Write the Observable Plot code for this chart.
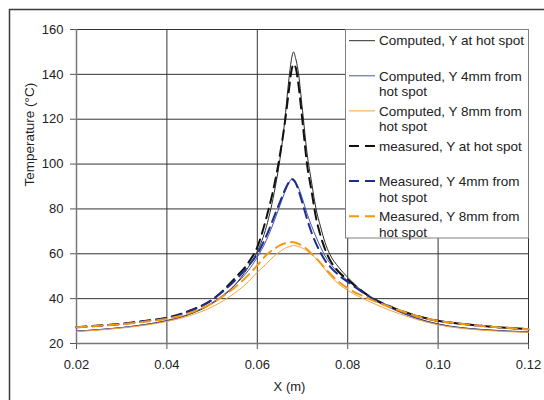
<!DOCTYPE html>
<html><head><meta charset="utf-8">
<script src="https://cdn.jsdelivr.net/npm/d3@7"></script>
<script src="https://cdn.jsdelivr.net/npm/@observablehq/plot@0.6"></script>
<style>body{margin:0;background:#fff;}</style>
</head><body><div id="chart"></div>
<script>
const xValues = [0.02,0.025,0.03,0.035,0.04,0.045,0.05,0.055,0.058,0.06,0.062,0.064,0.065,0.066,0.067,0.0675,0.068,0.0685,0.069,0.07,0.071,0.072,0.073,0.074,0.075,0.076,0.078,0.08,0.085,0.09,0.095,0.1,0.105,0.11,0.115,0.12];

const computedHot = [25.5,26.2,27.1,28.4,30.2,33.0,37.8,46,54,61,72,90,102,118,138,146,150,147,142,124,105,92,80,72,65,60,54,49.5,40.5,35.5,31.5,28.7,27.1,26.2,25.6,25.2];
const computed4mm = [25.5,26.2,27.1,28.4,30.2,33.2,38.2,46,52.5,58.5,66,76,81.5,87,91.5,93.2,93.3,92,90,84.5,78,72.5,67.5,63,59,56,51.5,48,40.5,35.3,31.3,28.5,27,26.1,25.5,25.1];
const computed8mm = [25.3,26,26.9,28.1,29.8,32.4,36.3,42.5,47.5,51.8,55.5,59.5,61,62.3,63.2,63.5,63.7,63.6,63.3,62.5,61.3,59.8,57.8,55.5,53,50.5,46.5,43.7,38.5,34.3,30.9,28.3,26.8,25.9,25.3,25];
const measuredHot = [27.3,28.0,28.8,30.0,31.5,34.6,39.5,49,56,63,76,93,104,117,133,141,144.5,143,137,119,100,88,76,68,62,57.5,52,48.5,40.8,36,32.5,30.1,28.8,27.8,27.0,26.4];
const measured4mm = [27.2,27.9,28.7,29.9,31.3,34.3,39.5,48,54.5,60,68,78,83,88,92,93.3,93,91.5,89,82.5,75.5,69.5,64.5,60.5,57,54.5,50.5,47.5,40.7,35.9,32.4,30,28.8,27.8,27,26.3];
const measured8mm = [27.2,27.9,28.6,29.7,31,33.6,38,45,50.5,54.8,59.5,62.5,63.8,64.6,65,65.2,65.1,64.9,64.5,63.5,62,60,58,55.8,53.5,51.3,47.5,44.7,39.7,35.8,32.4,30,28.8,27.8,27,26.3];

const seriesLabels = [
  ["Computed, Y at hot spot"],
  ["Computed, Y 4mm from", "hot spot"],
  ["Computed, Y 8mm from", "hot spot"],
  ["measured, Y at hot spot"],
  ["Measured, Y 4mm from", "hot spot"],
  ["Measured, Y 8mm from", "hot spot"]
];
const seriesValues = [computedHot, computed4mm, computed8mm, measuredHot, measured4mm, measured8mm];
const seriesColors = ["#2b2b2b", "#4455b0", "#f6a43c", "#111111", "#1f2e8e", "#f5980f"];
const seriesWidths = [1, 1, 1, 2, 2, 2];
const seriesDash = [null, null, null, "10,6", "10,6", "10,6"];

const xTicks = [0.02,0.04,0.06,0.08,0.10,0.12];
const yTicks = [20,40,60,80,100,120,140,160];
const xLabel = "X (m)";
const yLabel = "Temperature (°C)";

const font = "'Liberation Sans', Arial, sans-serif";

const lineMarks = seriesValues.map((vals, s) =>
  Plot.line(xValues.map((x, i) => ({x, t: vals[i]})), {
    x: "x", y: "t", stroke: seriesColors[s], strokeWidth: seriesWidths[s],
    strokeDasharray: seriesDash[s] || undefined, curve: "monotone-x"
  })
);

const plot = Plot.plot({
  width: 544, height: 400,
  marginLeft: 76, marginRight: 16, marginTop: 29, marginBottom: 57,
  style: {fontFamily: font, fontSize: "13px", color: "#222", background: "#fff"},
  x: {domain: [0.02, 0.12]},
  y: {domain: [20, 160]},
  marks: [
    Plot.gridX(xTicks, {stroke: "#333", strokeOpacity: 1, strokeWidth: 1}),
    Plot.gridY(yTicks, {stroke: "#333", strokeOpacity: 1, strokeWidth: 1}),
    Plot.axisX(xTicks, {tickSize: 6, tickPadding: 10, tickFormat: d3.format(".2f"), stroke: "#555", label: null, fontSize: 13}),
    Plot.axisY(yTicks, {tickSize: 6, tickPadding: 7, stroke: "#555", label: null, fontSize: 13}),
    Plot.ruleX([0.02], {stroke: "#777", strokeWidth: 1.5}),
    Plot.ruleY([20], {stroke: "#777", strokeWidth: 1.5}),
    ...lineMarks,
    Plot.text([xLabel], {text: d => d, frameAnchor: "bottom", dy: 43.5, dx: -13, lineAnchor: "middle", fontSize: 13, fill: "#222"}),
    Plot.text([yLabel], {text: d => d, frameAnchor: "left", dx: -47, rotate: -90, lineAnchor: "middle", fontSize: 13.5, fill: "#222"})
  ]
});

document.getElementById("chart").appendChild(plot);

const svg = d3.select(plot);
// outer chart border
svg.append("path").attr("d", "M9.5,402V9.5H546").attr("fill", "none").attr("stroke", "#3a3a3a").attr("stroke-width", 1.5);

// legend
const lg = svg.append("g").attr("text-anchor", "start");
lg.append("rect").attr("x", 345.5).attr("y", 29.5).attr("width", 183).attr("height", 208.5)
  .attr("fill", "#fff").attr("stroke", "#808080").attr("stroke-width", 1);
seriesLabels.forEach((lines, s) => {
  const cy = 40.7 + s * 35.1;
  lg.append("line").attr("x1", 349).attr("x2", 375).attr("y1", cy).attr("y2", cy)
    .attr("stroke", seriesColors[s]).attr("stroke-width", seriesWidths[s])
    .attr("stroke-dasharray", seriesDash[s] ? "10,6" : null);
  lines.forEach((ln, j) => {
    lg.append("text").attr("x", 379).attr("y", cy + j * 15.7).attr("dy", "0.35em")
      .attr("text-anchor", "start")
      .attr("font-family", font).attr("font-size", 13.5).attr("fill", "#222").text(ln);
  });
});
</script>
</body></html>
